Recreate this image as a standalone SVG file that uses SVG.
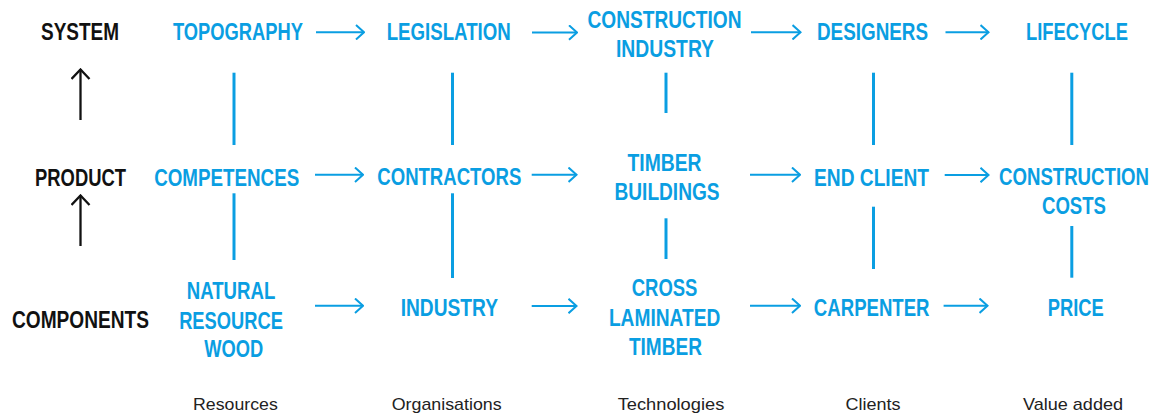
<svg xmlns="http://www.w3.org/2000/svg" width="1159" height="416" viewBox="0 0 1159 416">
<style>
.n{font-family:"Liberation Sans",Arial,sans-serif;font-weight:bold;font-size:24px;fill:#0a9ee2;text-anchor:middle}
.k{font-family:"Liberation Sans",Arial,sans-serif;font-weight:bold;font-size:24px;fill:#111;text-anchor:middle}
.c{font-family:"Liberation Sans",Arial,sans-serif;font-size:17px;fill:#222;text-anchor:middle}
.a{stroke:#0a9ee2;stroke-width:2;fill:none}
.v{stroke:#0a9ee2;stroke-width:3;fill:none}
.b{stroke:#111;stroke-width:2.3;fill:none}
</style>
<defs>
<marker id="ah" viewBox="0 0 10 16" refX="9" refY="8" markerWidth="10" markerHeight="16" markerUnits="userSpaceOnUse" orient="auto">
<path d="M1,0.8 L9,8 L1,15.2" fill="none" stroke="#0a9ee2" stroke-width="2"/>
</marker>
<marker id="bh" viewBox="0 0 12 20" refX="10" refY="10" markerWidth="12" markerHeight="20" markerUnits="userSpaceOnUse" orient="auto">
<path d="M0.5,1 L10,10 L0.5,19" fill="none" stroke="#111" stroke-width="2.3"/>
</marker>
</defs>
<rect width="1159" height="416" fill="#fff"/>

<g id="levels">
<text class="k" x="80" y="40" textLength="78" lengthAdjust="spacingAndGlyphs">SYSTEM</text>
<text class="k" x="80.5" y="185.5" textLength="91" lengthAdjust="spacingAndGlyphs">PRODUCT</text>
<text class="k" x="80.5" y="327.5" textLength="137" lengthAdjust="spacingAndGlyphs">COMPONENTS</text>
</g>

<g id="topography"><text class="n" x="238" y="40" textLength="130" lengthAdjust="spacingAndGlyphs">TOPOGRAPHY</text></g>
<g id="legislation"><text class="n" x="448.7" y="40" textLength="124" lengthAdjust="spacingAndGlyphs">LEGISLATION</text></g>
<g id="construction-industry">
<text class="n" x="664.5" y="28" textLength="154" lengthAdjust="spacingAndGlyphs">CONSTRUCTION</text>
<text class="n" x="665" y="56.5" textLength="98" lengthAdjust="spacingAndGlyphs">INDUSTRY</text>
</g>
<g id="designers"><text class="n" x="872.5" y="40" textLength="111" lengthAdjust="spacingAndGlyphs">DESIGNERS</text></g>
<g id="lifecycle"><text class="n" x="1077" y="40" textLength="102" lengthAdjust="spacingAndGlyphs">LIFECYCLE</text></g>

<g id="competences"><text class="n" x="226.7" y="185.5" textLength="145" lengthAdjust="spacingAndGlyphs">COMPETENCES</text></g>
<g id="contractors"><text class="n" x="449.3" y="184.5" textLength="144" lengthAdjust="spacingAndGlyphs">CONTRACTORS</text></g>
<g id="timber-buildings">
<text class="n" x="664.5" y="170.5" textLength="74" lengthAdjust="spacingAndGlyphs">TIMBER</text>
<text class="n" x="667" y="199.5" textLength="105" lengthAdjust="spacingAndGlyphs">BUILDINGS</text>
</g>
<g id="end-client"><text class="n" x="871.5" y="185.5" textLength="115" lengthAdjust="spacingAndGlyphs">END CLIENT</text></g>
<g id="construction-costs">
<text class="n" x="1074" y="184.5" textLength="150" lengthAdjust="spacingAndGlyphs">CONSTRUCTION</text>
<text class="n" x="1074" y="213.5" textLength="64" lengthAdjust="spacingAndGlyphs">COSTS</text>
</g>

<g id="natural-resource-wood">
<text class="n" x="231" y="299" textLength="88.6" lengthAdjust="spacingAndGlyphs">NATURAL</text>
<text class="n" x="231" y="328.5" textLength="103.7" lengthAdjust="spacingAndGlyphs">RESOURCE</text>
<text class="n" x="233.7" y="357.3" textLength="59" lengthAdjust="spacingAndGlyphs">WOOD</text>
</g>
<g id="industry"><text class="n" x="449.3" y="315.7" textLength="97.3" lengthAdjust="spacingAndGlyphs">INDUSTRY</text></g>
<g id="cross-laminated-timber">
<text class="n" x="664.6" y="296" textLength="65.6" lengthAdjust="spacingAndGlyphs">CROSS</text>
<text class="n" x="664.6" y="325.5" textLength="111.4" lengthAdjust="spacingAndGlyphs">LAMINATED</text>
<text class="n" x="665.4" y="354.5" textLength="73" lengthAdjust="spacingAndGlyphs">TIMBER</text>
</g>
<g id="carpenter"><text class="n" x="871.7" y="315.7" textLength="115.7" lengthAdjust="spacingAndGlyphs">CARPENTER</text></g>
<g id="price"><text class="n" x="1075.8" y="315.7" textLength="56" lengthAdjust="spacingAndGlyphs">PRICE</text></g>

<g id="categories">
<text class="c" x="235.4" y="410" textLength="84.7" lengthAdjust="spacingAndGlyphs">Resources</text>
<text class="c" x="446.7" y="410" textLength="110" lengthAdjust="spacingAndGlyphs">Organisations</text>
<text class="c" x="671" y="410" textLength="106.6" lengthAdjust="spacingAndGlyphs">Technologies</text>
<text class="c" x="873" y="410" textLength="55" lengthAdjust="spacingAndGlyphs">Clients</text>
<text class="c" x="1073" y="410" textLength="100" lengthAdjust="spacingAndGlyphs">Value added</text>
</g>

<g id="connectors">
<line class="b" x1="80.5" y1="120" x2="80.5" y2="69.5" marker-end="url(#bh)"/>
<line class="b" x1="80.5" y1="246" x2="80.5" y2="195.5" marker-end="url(#bh)"/>

<line class="a" x1="316" y1="32.3" x2="364" y2="32.3" marker-end="url(#ah)"/>
<line class="a" x1="532" y1="32.5" x2="577" y2="32.5" marker-end="url(#ah)"/>
<line class="a" x1="751" y1="32.3" x2="800.5" y2="32.3" marker-end="url(#ah)"/>
<line class="a" x1="945.5" y1="32.3" x2="988.5" y2="32.3" marker-end="url(#ah)"/>

<line class="a" x1="315" y1="174.7" x2="363" y2="174.7" marker-end="url(#ah)"/>
<line class="a" x1="531.7" y1="174.7" x2="576.5" y2="174.7" marker-end="url(#ah)"/>
<line class="a" x1="750" y1="174.7" x2="800" y2="174.7" marker-end="url(#ah)"/>
<line class="a" x1="944.7" y1="175" x2="988.5" y2="175" marker-end="url(#ah)"/>

<line class="a" x1="315" y1="305.7" x2="363" y2="305.7" marker-end="url(#ah)"/>
<line class="a" x1="531.7" y1="306" x2="576.5" y2="306" marker-end="url(#ah)"/>
<line class="a" x1="750" y1="305.7" x2="800" y2="305.7" marker-end="url(#ah)"/>
<line class="a" x1="943.6" y1="305.7" x2="987.5" y2="305.7" marker-end="url(#ah)"/>

<line class="v" x1="234" y1="72.7" x2="234" y2="145"/>
<line class="v" x1="452.5" y1="72.7" x2="452.5" y2="145"/>
<line class="v" x1="666" y1="72.7" x2="666" y2="113"/>
<line class="v" x1="873.5" y1="72.7" x2="873.5" y2="145"/>
<line class="v" x1="1071.8" y1="72.7" x2="1071.8" y2="145"/>

<line class="v" x1="234" y1="193.3" x2="234" y2="260"/>
<line class="v" x1="452.5" y1="193.3" x2="452.5" y2="278"/>
<line class="v" x1="666" y1="218.3" x2="666" y2="259"/>
<line class="v" x1="873.5" y1="206.7" x2="873.5" y2="269"/>
<line class="v" x1="1071.8" y1="226" x2="1071.8" y2="277.7"/>
</g>
</svg>
